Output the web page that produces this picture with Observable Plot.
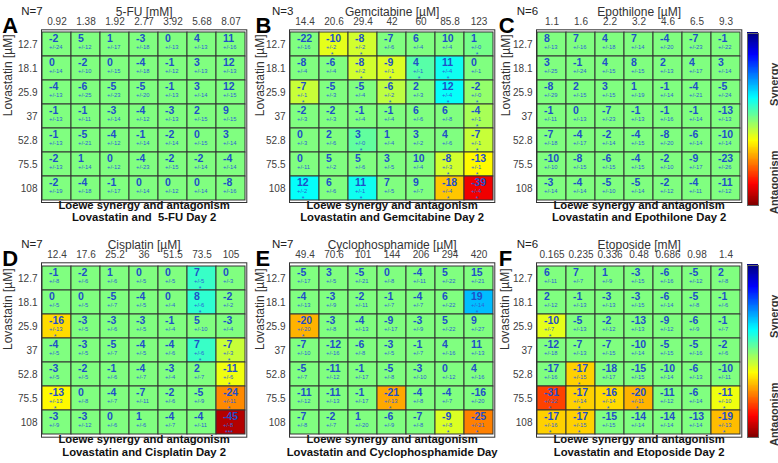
<!DOCTYPE html>
<html><head><meta charset="utf-8">
<script src="https://cdn.jsdelivr.net/npm/d3@7"></script>
<script src="https://cdn.jsdelivr.net/npm/@observablehq/plot@0.6"></script>
<style>
body{margin:0;background:#fff;}
#chart{position:relative;width:778px;height:463px;overflow:hidden;background:#fff;}
#chart svg{position:absolute;background:transparent;overflow:visible;}
</style></head><body><div id="chart"></div>
<script>
// ---------- data ----------
const lovastatin = ["12.7","18.1","25.9","37","52.8","75.5","108"];

const fuConc = ["0.92","1.38","1.92","2.77","3.92","5.68","8.07"];
const fuVal = [[-2,5,1,-3,0,4,11],[0,-2,0,-4,-1,3,12],[-4,-6,-5,-5,-1,3,12],[-1,-1,-3,-4,-3,2,9],[-1,-5,-4,-1,-2,0,3],[-2,1,0,-4,-2,-2,-4],[-2,-4,-1,0,0,0,-8]];
const fuErr = [[24,12,17,18,13,13,16],[14,10,15,18,12,13,13],[13,25,23,20,13,14,15],[13,11,14,12,13,15,15],[13,21,12,14,14,15,14],[13,14,12,23,15,14,14],[19,18,17,14,12,14,16]];
const fuSig = [[0,0,0,0,0,0,0],[0,0,0,0,0,0,0],[0,0,0,0,0,0,0],[0,0,0,0,0,0,0],[0,0,0,0,0,0,0],[0,0,0,0,0,0,0],[0,0,0,0,0,0,0]];

const gemConc = ["14.4","20.6","29.4","42","60","85.8","123"];
const gemVal = [[-22,-10,-8,-7,6,10,1],[-8,-6,-8,-9,4,11,0],[-7,-5,-5,-6,2,12,-2],[-2,-2,-1,-1,6,6,-4],[0,2,3,1,3,4,-7],[0,5,5,3,10,-8,-13],[12,6,11,7,9,-18,-39]];
const gemErr = [[16,2,2,6,4,4,0],[4,4,2,1,1,4,1],[1,3,4,2,3,4,0],[3,3,4,4,6,8,1],[3,6,0,4,2,6,1],[11,2,6,5,4,3,1],[2,6,1,5,7,4,4]];
const gemSig = [[0,1,1,0,0,0,1],[0,0,1,1,1,1,0],[1,0,0,1,0,1,1],[0,0,0,0,0,0,1],[0,0,1,0,0,0,1],[0,0,0,0,0,1,1],[1,0,1,0,0,1,1]];

const epoConc = ["1.1","1.6","2.2","3.2","4.6","6.5","9.3"];
const epoVal = [[8,7,4,7,-4,-7,-1],[3,-1,4,8,2,4,3],[-8,2,3,1,-1,-4,-5],[-1,0,-7,-1,-1,-1,-13],[-7,-4,-2,-4,-8,-6,-10],[-10,-8,-6,-4,-2,-9,-23],[-3,-4,-5,-5,-2,-4,-11]];
const epoErr = [[13,16,18,14,20,23,22],[25,24,15,15,13,17,14],[29,15,15,19,14,21,24],[11,13,23,13,16,14,13],[18,17,14,15,20,14,14],[10,15,15,15,10,17,26],[14,14,10,14,12,11,12]];
const epoSig = [[0,0,0,0,0,0,0],[0,0,0,0,0,0,0],[0,0,0,0,0,0,0],[0,0,0,0,0,0,0],[0,0,0,0,0,0,0],[0,0,0,0,0,0,0],[0,0,0,0,0,0,0]];

const cisConc = ["12.4","17.6","25.2","36","51.5","73.5","105"];
const cisVal = [[-1,-2,1,0,0,7,0],[0,0,-5,-4,0,8,-2],[-16,-3,-3,-3,-1,5,-3],[-4,-3,-5,-4,-4,7,-7],[-3,-2,-1,-4,-3,2,-11],[-13,0,-4,-7,-2,-5,-24],[-3,-3,0,1,-4,-4,-45]];
const cisErr = [[8,6,6,5,5,5,3],[5,5,7,5,4,6,2],[13,5,6,5,4,10,4],[5,5,7,5,6,6,3],[5,5,6,7,4,7,6],[13,8,7,11,6,9,11],[9,12,6,6,7,11,8]];
const cisSig = [[0,0,0,0,0,1,0],[0,0,0,0,0,1,0],[1,0,0,0,0,0,0],[0,0,0,0,0,1,1],[0,0,0,0,0,0,1],[1,0,0,0,0,0,1],[0,0,0,0,0,0,3]];

const cycConc = ["49.4","70.6","101","144","206","294","420"];
const cycVal = [[-5,3,-5,0,-4,5,15],[-4,-3,-2,-1,-4,6,19],[-20,-3,-4,-9,-3,5,9],[-7,-12,-6,-3,-1,4,11],[-5,-11,-1,-5,-3,0,4],[-11,-11,-1,-21,-4,-4,-16],[-7,-2,1,-6,-7,-9,-25]];
const cycErr = [[17,5,21,8,11,22,21],[13,9,11,7,7,22,14],[20,8,13,17,9,22,27],[10,16,8,5,7,16,13],[7,12,17,8,10,12,16],[12,13,17,13,8,7,20],[8,7,20,9,8,8,21]];
const cycSig = [[0,0,0,0,0,0,0],[0,0,0,0,0,0,1],[1,0,0,0,0,0,0],[0,0,0,0,0,0,0],[0,0,0,0,0,0,0],[0,0,0,1,0,0,0],[0,0,0,0,0,1,1]];

const etoConc = ["0.165","0.235","0.336","0.48","0.686","0.98","1.4"];
const etoVal = [[6,7,1,-3,-6,-5,2],[2,-1,-3,-3,-6,-5,-1],[-10,-5,-2,-13,-9,-6,-1],[-12,-7,-7,-10,-5,-5,-2],[-17,-17,-18,-15,-10,-6,-10],[-31,-17,-16,-20,-11,-6,-11],[-17,-17,-15,-14,-14,-13,-19]];
const etoErr = [[11,7,9,15,16,12,8],[12,13,13,15,14,8,6],[7,13,12,13,12,9,7],[18,13,15,14,15,16,6],[16,15,17,15,14,13,11],[22,14,14,11,12,14,10],[16,15,15,14,14,14,13]];
const etoSig = [[0,0,0,0,0,0,0],[0,0,0,0,0,0,0],[1,0,0,0,0,0,0],[0,0,0,0,0,0,0],[0,1,0,0,0,0,0],[1,1,1,1,0,0,1],[1,1,0,0,0,0,1]];

const colorDomain = [-50, 50];

// ---------- rendering ----------
const FONT = '"Liberation Sans", Arial, sans-serif';
// jet colormap; positive (synergy) -> blue, negative (antagonism) -> red
const jet = t => {
  const c = v => Math.round(255 * Math.max(0, Math.min(1, v)));
  return `rgb(${c(1.5 - Math.abs(4 * t - 3))},${c(1.5 - Math.abs(4 * t - 2))},${c(1.5 - Math.abs(4 * t - 1))})`;
};
const jetReversed = t => jet(1 - t);
const colorOpts = {type: "linear", domain: colorDomain, interpolate: jetReversed, clamp: true};
const numColor = "#1f4fc8", smallColor = "#2d62d6";

const layout = [
  {letter:"A", n:"N=7", conc:fuConc, vals:fuVal, errs:fuErr, sigs:fuSig, drug:"5-FU [mM]", line2:"Lovastatin and  5-FU Day 2", gx:41, gy:29.3, gh:172.7, letDx:-39.3, nDx:-20.3, labDx:-33, b1:6.8, b2:18},
  {letter:"B", n:"N=3", conc:gemConc, vals:gemVal, errs:gemErr, sigs:gemSig, drug:"Gemcitabine [µM]", line2:"Lovastatin and Gemcitabine Day 2", gx:288.7, gy:29.3, gh:172.7, letDx:-34, nDx:-17.5, labDx:-29.5, b1:6.8, b2:18},
  {letter:"C", n:"N=6", conc:epoConc, vals:epoVal, errs:epoErr, sigs:epoSig, drug:"Epothilone [µM]", line2:"Lovastatin and Epothilone Day 2", gx:535.7, gy:29.3, gh:172.7, letDx:-37.7, nDx:-19.7, labDx:-30.7, b1:6.8, b2:18},
  {letter:"D", n:"N=7", conc:cisConc, vals:cisVal, errs:cisErr, sigs:cisSig, drug:"Cisplatin [µM]", line2:"Lovastatin and Cisplatin Day 2", gx:41, gy:262.3, gh:174.4, letDx:-39.3, nDx:-20.3, labDx:-33, b1:5.8, b2:19},
  {letter:"E", n:"N=7", conc:cycConc, vals:cycVal, errs:cycErr, sigs:cycSig, drug:"Cyclophosphamide [µM]", line2:"Lovastatin and Cyclophosphamide Day", gx:288.7, gy:262.3, gh:174.4, letDx:-34, nDx:-17.5, labDx:-29.5, b1:5.8, b2:19},
  {letter:"F", n:"N=6", conc:etoConc, vals:etoVal, errs:etoErr, sigs:etoSig, drug:"Etoposide [mM]", line2:"Lovastatin and Etoposide Day 2", gx:535.7, gy:262.3, gh:174.4, letDx:-37.7, nDx:-19.7, labDx:-31.7, b1:5.8, b2:19}
];

const chart = document.getElementById("chart");

function place(svg, left, top) {
  svg.style.position = "absolute";
  svg.style.left = left + "px";
  svg.style.top = top + "px";
  svg.style.background = "transparent";
  svg.style.maxWidth = "none";
  chart.appendChild(svg);
}

for (const p of layout) {
  const data = [];
  lovastatin.forEach((ly, r) => p.conc.forEach((cx, c) =>
    data.push({x: cx, y: ly, v: p.vals[r][c], e: p.errs[r][c], s: p.sigs[r][c]})));
  const W = 265, H = 230, mL = 41, mT = 29.3;
  const svg = Plot.plot({
    width: W, height: H,
    marginLeft: mL, marginRight: W - mL - 205.3, marginTop: mT, marginBottom: H - mT - p.gh,
    style: {fontFamily: FONT, fontSize: "10px", color: "#404040", background: "transparent"},
    x: {domain: p.conc, axis: "top", tickSize: 0, tickPadding: 5, label: null, padding: 0},
    y: {domain: lovastatin, tickSize: 0, tickPadding: 4, label: null, padding: 0},
    color: colorOpts,
    marks: [
      Plot.cell(data, {x: "x", y: "y", fill: d => d.s ? d.v : 0, stroke: "#333", strokeWidth: 1, inset: 0}),
      Plot.text(data, {x: "x", y: "y", text: d => String(d.v), dx: -8, dy: -5.8, textAnchor: "start", fontSize: 10.5, fontWeight: "bold", fill: numColor}),
      Plot.text(data, {x: "x", y: "y", text: d => "+/-" + d.e, dx: -8, dy: 2.6, textAnchor: "start", fontSize: 5.8, fill: smallColor}),
      Plot.text(data.filter(d => d.s), {x: "x", y: "y", text: d => "*".repeat(d.s), dx: -2, dy: 10.3, fontSize: 7, fill: smallColor}),
      Plot.frame({stroke: "#333"}),
      Plot.text([p.drug], {frameAnchor: "top", dy: -22.8, fontSize: 12, fill: "#333"}),
      Plot.text([p.letter], {frameAnchor: "top-left", dx: p.letDx, dy: -12.3, textAnchor: "start", fontSize: 22, fontWeight: "bold", fill: "#000"}),
      Plot.text([p.n], {frameAnchor: "top-left", dx: p.nDx, dy: -23.3, textAnchor: "start", fontSize: 11.5, fill: "#222"}),
      Plot.text(["Lovastatin [µM]"], {frameAnchor: "left", dx: p.labDx, rotate: -90, fontSize: 12, fill: "#333"}),
      Plot.text(["Loewe synergy and antagonism"], {frameAnchor: "bottom", dy: p.b1, fontSize: 11.3, fontWeight: "bold", fill: "#111"}),
      Plot.text([p.line2], {frameAnchor: "bottom", dy: p.b2, fontSize: 11.3, fontWeight: "bold", fill: "#111"})
    ]
  });
  place(svg, p.gx - mL, p.gy - mT);
}

// colour bars
const barStops = d3.range(-50, 50, 0.5);
for (const cb of [{top: 0, mT: 33, mB: 25}, {top: 233, mT: 32, mB: 26}]) {
  const svg = Plot.plot({
    width: 38, height: 230,
    marginLeft: 7, marginRight: 20, marginTop: cb.mT, marginBottom: cb.mB,
    style: {fontFamily: FONT, background: "transparent"},
    x: {domain: [0, 1], axis: null},
    y: {domain: [-50, 50], axis: null},
    color: colorOpts,
    marks: [
      Plot.rect(barStops, {x1: 0, x2: 1, y1: d => d, y2: d => d + 1.2, fill: d => d + 0.25, shapeRendering: "crispEdges"}),
      Plot.frame({stroke: "#666"}),
      Plot.text(["Synergy"], {frameAnchor: "top-right", dx: 12, dy: 29, rotate: -90, fontSize: 11, fontWeight: "bold", fill: "#333"}),
      Plot.text(["Antagonism"], {frameAnchor: "top-right", dx: 12, dy: 117, rotate: -90, fontSize: 11, fontWeight: "bold", fill: "#333"})
    ]
  });
  place(svg, 740, cb.top);
}
</script></body></html>
